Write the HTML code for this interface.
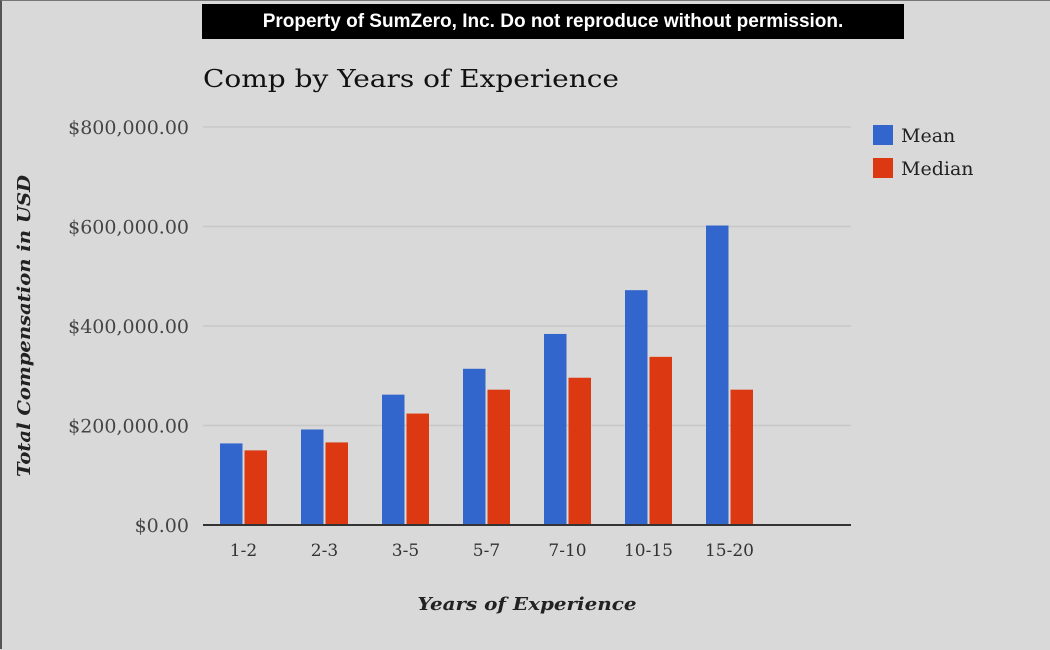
<!DOCTYPE html>
<html><head><meta charset="utf-8"><style>
html,body{margin:0;padding:0;width:1050px;height:650px;overflow:hidden;background:#d9d9d9;}
#frame{position:absolute;left:0;top:0;width:1048px;height:648px;border-left:2px solid #555;border-top:1px solid #777;}
#banner{position:absolute;left:202px;top:4px;width:702px;height:35px;background:#000;color:#fff;font:bold 19px "Liberation Sans",sans-serif;line-height:35px;text-align:center;}
svg text{font-family:"DejaVu Serif","Liberation Serif",serif;}
</style></head><body>
<div id="frame"></div>
<div id="banner">Property of SumZero, Inc. Do not reproduce without permission.</div>
<svg id="chart" width="1050" height="650" style="position:absolute;left:0;top:0">
<text x="203" y="87" font-size="24" fill="#111" textLength="416" lengthAdjust="spacingAndGlyphs">Comp by Years of Experience</text>
<text transform="translate(30,326) rotate(-90)" text-anchor="middle" font-size="18" font-style="italic" font-weight="bold" fill="#222" textLength="302" lengthAdjust="spacingAndGlyphs">Total Compensation in USD</text>
<text x="527" y="610" text-anchor="middle" font-size="18" font-style="italic" font-weight="bold" fill="#222" textLength="219" lengthAdjust="spacingAndGlyphs">Years of Experience</text>
<g id="grid"></g><g id="bars"></g><g id="labels"></g>
<rect x="873" y="125" width="20" height="20" fill="#3366cc"/>
<text x="901" y="142" font-size="19" fill="#222">Mean</text>
<rect x="873" y="158" width="20" height="20" fill="#dc3912"/>
<text x="901" y="175" font-size="19" fill="#222">Median</text>
</svg>
<script>
const categories=["1-2","2-3","3-5","5-7","7-10","10-15","15-20"];
const meanValues=[164000,192000,262000,314000,384000,472000,602000];
const medianValues=[150000,166000,224000,272000,296000,338000,272000];
const yTicks=[0,200000,400000,600000,800000];
const yTickLabels=["$0.00","$200,000.00","$400,000.00","$600,000.00","$800,000.00"];
const NS="http://www.w3.org/2000/svg";
const x0=203,x1=851,y0=525,yTop=127,yMax=800000,slots=8;
const slotW=(x1-x0)/slots;
function y(v){return y0-(v/yMax)*(y0-yTop);}
function xc(i){return x0+slotW*(i+0.5);}
const grid=document.getElementById('grid'),bars=document.getElementById('bars'),labels=document.getElementById('labels');
yTicks.forEach((t,i)=>{
  const l=document.createElementNS(NS,'line');
  
  
  l.setAttribute('x1',x0);l.setAttribute('x2',x1);l.setAttribute('y1',y(t));l.setAttribute('y2',y(t));
  l.setAttribute('stroke',t===0?'#333':'#c8c8c8');l.setAttribute('stroke-width',t===0?2:1.5);
  (t===0?labels:grid).appendChild(l);
  const tx=document.createElementNS(NS,'text');
  
  
  tx.setAttribute('x',189);tx.setAttribute('y',y(t)+7);tx.setAttribute('text-anchor','end');
  tx.setAttribute('font-size','19');tx.setAttribute('fill','#444');tx.textContent=yTickLabels[i];
  labels.appendChild(tx);
});
const bw=22.5;
categories.forEach((c,i)=>{
  const cx=xc(i);
  [[meanValues[i],'#3366cc',cx-bw-1,'bar-mean'],[medianValues[i],'#dc3912',cx+1,'bar-median']].forEach(([v,col,bx,nm])=>{
    const r=document.createElementNS(NS,'rect');
    
    
    r.setAttribute('x',bx);r.setAttribute('width',bw);r.setAttribute('y',y(v));r.setAttribute('height',y0-y(v));
    r.setAttribute('fill',col);bars.appendChild(r);
  });
  const tx=document.createElementNS(NS,'text');
  
  
  tx.setAttribute('x',cx);tx.setAttribute('y',556);tx.setAttribute('text-anchor','middle');
  tx.setAttribute('font-size','17');tx.setAttribute('fill','#333');tx.textContent=c;
  labels.appendChild(tx);
});
</script>
</body></html>
